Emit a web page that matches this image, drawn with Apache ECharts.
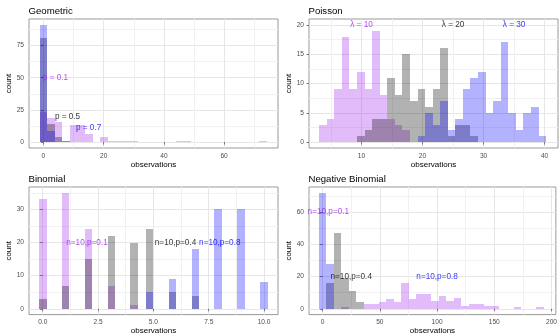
<!DOCTYPE html>
<html><head><meta charset="utf-8">
<script src="https://cdn.jsdelivr.net/npm/echarts@6/dist/echarts.min.js"></script>
<style>html,body{margin:0;padding:0;background:#fff}#c{width:560px;height:336px}</style>
</head><body><div id="c"></div>
<script>
// ---------- data ----------
const panelTitles = ['Geometric', 'Poisson', 'Binomial', 'Negative Binomial'];

// Geometric (bin centre of first bin, bin width, counts per bin)
const geomFirst = 0, geomWidth = 2.517;
const geomP01 = [23,19,16,1,13,13,6,0,4,1,1,1,1,0,0,0,0,0,1,1,0,0,0,0,0,0,0,0,0,1];
const geomP05 = [81,14,4,1,0,0,0,0,0,0,0,0,0,0,0,0,0,0,0,0,0,0,0,0,0,0,0,0,0,0];
const geomP07 = [91,9,0,0,0,0,0,0,0,0,0,0,0,0,0,0,0,0,0,0,0,0,0,0,0,0,0,0,0,0];
const geomLabels = [['p = 0.1', 4, 50], ['p = 0.5', 8, 20], ['p = 0.7', 15, 11]];
const geomXTicks = [0, 20, 40, 60], geomXMinor = [10, 30, 50, 70];
const geomYTicks = [0, 25, 50, 75], geomYMinor = [12.5, 37.5, 62.5, 87.5];

// Poisson
const poisFirst = 3.68, poisWidth = 1.24;
const poisL10 = [3,4,9,18,9,12,9,19,8,4,3,2,0,0,0,0,0,0,0,0,0,0,0,0,0,0,0,0,0,0];
const poisL20 = [0,0,0,0,0,1,2,4,4,11,8,15,7,9,6,9,16,1,3,3,1,0,0,0,0,0,0,0,0,0];
const poisL30 = [0,0,0,0,0,0,0,0,0,0,0,0,0,1,5,3,7,2,4,9,11,12,5,7,17,5,2,5,6,1];
const poisLabels = [['λ = 10', 10, 20], ['λ = 20', 25, 20], ['λ = 30', 35, 20]];
const poisXTicks = [10, 20, 30, 40], poisXMinor = [5, 15, 25, 35];
const poisYTicks = [0, 5, 10, 15, 20], poisYMinor = [2.5, 7.5, 12.5, 17.5];

// Binomial
const binFirst = 0, binWidth = 10 / 29;
const binP01 = [33,0,0,35,0,0,24,0,0,7,0,0,1,0,0,0,0,0,0,0,0,0,0,0,0,0,0,0,0,0];
const binP04 = [3,0,0,7,0,0,15,0,0,22,0,0,20,0,24,0,0,5,0,0,4,0,0,0,0,0,0,0,0,0];
const binP08 = [0,0,0,0,0,0,0,0,0,0,0,0,0,0,5,0,0,9,0,0,18,0,0,30,0,0,30,0,0,8];
const binLabels = [['n=10,p=0.1', 2, 20], ['n=10,p=0.4', 6, 20], ['n=10,p=0.8', 8, 20]];
const binXTicks = [0, 2.5, 5, 7.5, 10], binXMinor = [1.25, 3.75, 6.25, 8.75];
const binYTicks = [0, 10, 20, 30], binYMinor = [5, 15, 25, 35];

// Negative Binomial
const nbFirst = 0, nbWidth = 190 / 29;
const nbP01 = [0,0,0,1,0,0,3,3,4,6,4,16,6,9,9,5,8,5,7,2,3,3,2,2,0,0,1,0,0,1];
const nbP04 = [0,16,47,19,11,4,0,0,0,0,0,0,0,0,0,0,0,0,0,0,0,0,0,0,0,0,0,0,0,0];
const nbP08 = [72,28,0,0,0,0,0,0,0,0,0,0,0,0,0,0,0,0,0,0,0,0,0,0,0,0,0,0,0,0];
const nbLabels = [['n=10,p=0.1', 5, 60], ['n=10,p=0.4', 25, 20], ['n=10,p=0.8', 100, 20]];
const nbXTicks = [0, 50, 100, 150, 200], nbXMinor = [25, 75, 125, 175];
const nbYTicks = [0, 20, 40, 60], nbYMinor = [10, 30, 50, 70];

// ---------- chart ----------
const FONT = 'Liberation Sans, Arial, Helvetica, sans-serif';
const FILLS = ['rgba(160,32,240,0.3)', 'rgba(0,0,0,0.3)', 'rgba(0,0,255,0.3)'];
const TEXTS = ['#A020F0', '#000000', '#0000FF'];

const panels = [
  {first: geomFirst, w: geomWidth, groups: [geomP01, geomP05, geomP07], labels: geomLabels,
   xT: geomXTicks, xM: geomXMinor, yT: geomYTicks, yM: geomYMinor,
   xLim: [-4.8, 77.9], yLim: [-4.55, 95.55], fmt: v => String(v),
   grid: {left: 29, top: 19, width: 249, height: 129}},
  {first: poisFirst, w: poisWidth, groups: [poisL10, poisL20, poisL30], labels: poisLabels,
   xT: poisXTicks, xM: poisXMinor, yT: poisYTicks, yM: poisYMinor,
   xLim: [1.4, 42.2], yLim: [-1, 21], fmt: v => String(v),
   grid: {left: 309, top: 19, width: 249, height: 129}},
  {first: binFirst, w: binWidth, groups: [binP01, binP04, binP08], labels: binLabels,
   xT: binXTicks, xM: binXMinor, yT: binYTicks, yM: binYMinor,
   xLim: [-0.62, 10.63], yLim: [-1.75, 36.75], fmt: v => Number(v).toFixed(1),
   grid: {left: 29, top: 187, width: 249, height: 129}},
  {first: nbFirst, w: nbWidth, groups: [nbP01, nbP04, nbP08], labels: nbLabels,
   xT: nbXTicks, xM: nbXMinor, yT: nbYTicks, yM: nbYMinor,
   xLim: [-11.9, 203.8], yLim: [-3.6, 75.6], fmt: v => String(v),
   grid: {left: 309, top: 187, width: 249, height: 129}}
];

function renderBar(params, api) {
  const p0 = api.coord([api.value(0), api.value(2)]);
  const p1 = api.coord([api.value(1), 0]);
  const x0 = Math.round(p0[0]), x1 = Math.round(p1[0]);
  const y0 = Math.round(p0[1]), y1 = Math.round(p1[1]);
  return {type: 'rect', shape: {x: x0, y: y0, width: x1 - x0, height: y1 - y0},
          style: {fill: api.visual('color')}};
}

const grid = [], xAxis = [], yAxis = [], series = [], title = [];
panels.forEach((p, i) => {
  grid.push(Object.assign({show: true, borderColor: '#999999', borderWidth: 1,
    backgroundColor: 'transparent', containLabel: false}, p.grid));
  title.push({text: panelTitles[i], left: p.grid.left - 0.5, top: p.grid.top - 12.5, padding: 0,
    textStyle: {fontSize: 9.6, fontWeight: 'normal', color: '#000', fontFamily: FONT}});
  // major x
  xAxis.push({type: 'value', gridIndex: i, min: p.xLim[0], max: p.xLim[1], position: 'bottom',
    axisLine: {show: false},
    axisTick: {show: true, length: 2.5, customValues: p.xT, lineStyle: {color: '#777', width: 1}},
    axisLabel: {customValues: p.xT, fontSize: 6.6, color: '#4d4d4d', margin: 4.5, fontFamily: FONT, formatter: p.fmt},
    splitLine: {show: true, lineStyle: {color: '#e6e6e6', width: 1}},
    name: 'observations', nameLocation: 'middle', nameGap: 12,
    nameTextStyle: {fontSize: 8, color: '#000', fontFamily: FONT}});
  // minor x
  xAxis.push({type: 'value', gridIndex: i, min: p.xLim[0], max: p.xLim[1], position: 'top',
    axisLine: {show: false}, axisTick: {show: false, customValues: p.xM},
    axisLabel: {show: false, customValues: p.xM},
    splitLine: {show: true, lineStyle: {color: '#f1f1f1', width: 1}}});
  // major y
  yAxis.push({type: 'value', gridIndex: i, min: p.yLim[0], max: p.yLim[1], position: 'left',
    axisLine: {show: false},
    axisTick: {show: true, length: 2.5, customValues: p.yT, lineStyle: {color: '#777', width: 1}},
    axisLabel: {customValues: p.yT, fontSize: 6.6, color: '#4d4d4d', margin: 5, fontFamily: FONT},
    splitLine: {show: true, lineStyle: {color: '#e6e6e6', width: 1}},
    name: 'count', nameLocation: 'middle', nameGap: 13,
    nameTextStyle: {fontSize: 8, color: '#000', fontFamily: FONT}});
  // minor y
  yAxis.push({type: 'value', gridIndex: i, min: p.yLim[0], max: p.yLim[1], position: 'right',
    axisLine: {show: false}, axisTick: {show: false, customValues: p.yM},
    axisLabel: {show: false, customValues: p.yM},
    splitLine: {show: true, lineStyle: {color: '#f1f1f1', width: 1}}});

  p.groups.forEach((counts, g) => {
    series.push({type: 'custom', xAxisIndex: 2 * i, yAxisIndex: 2 * i, renderItem: renderBar,
      itemStyle: {color: FILLS[g]}, encode: {x: [0, 1], y: 2}, silent: true, z: 2 + g,
      data: counts.map((c, k) => [p.first + k * p.w - p.w / 2, p.first + k * p.w + p.w / 2, c])});
  });
  p.labels.forEach((lab, g) => {
    series.push({type: 'scatter', xAxisIndex: 2 * i, yAxisIndex: 2 * i, symbolSize: 1, silent: true,
      itemStyle: {color: 'transparent'}, z: 10, clip: false,
      label: {show: true, position: 'inside', formatter: d => d.value[2], color: TEXTS[g],
        fontSize: 8.2, fontFamily: FONT},
      data: [[lab[1], lab[2], lab[0]]]});
  });
});

const chart = echarts.init(document.getElementById('c'), null, {renderer: 'canvas'});
chart.setOption({animation: false, backgroundColor: '#fff', title, grid, xAxis, yAxis, series});
</script></body></html>
